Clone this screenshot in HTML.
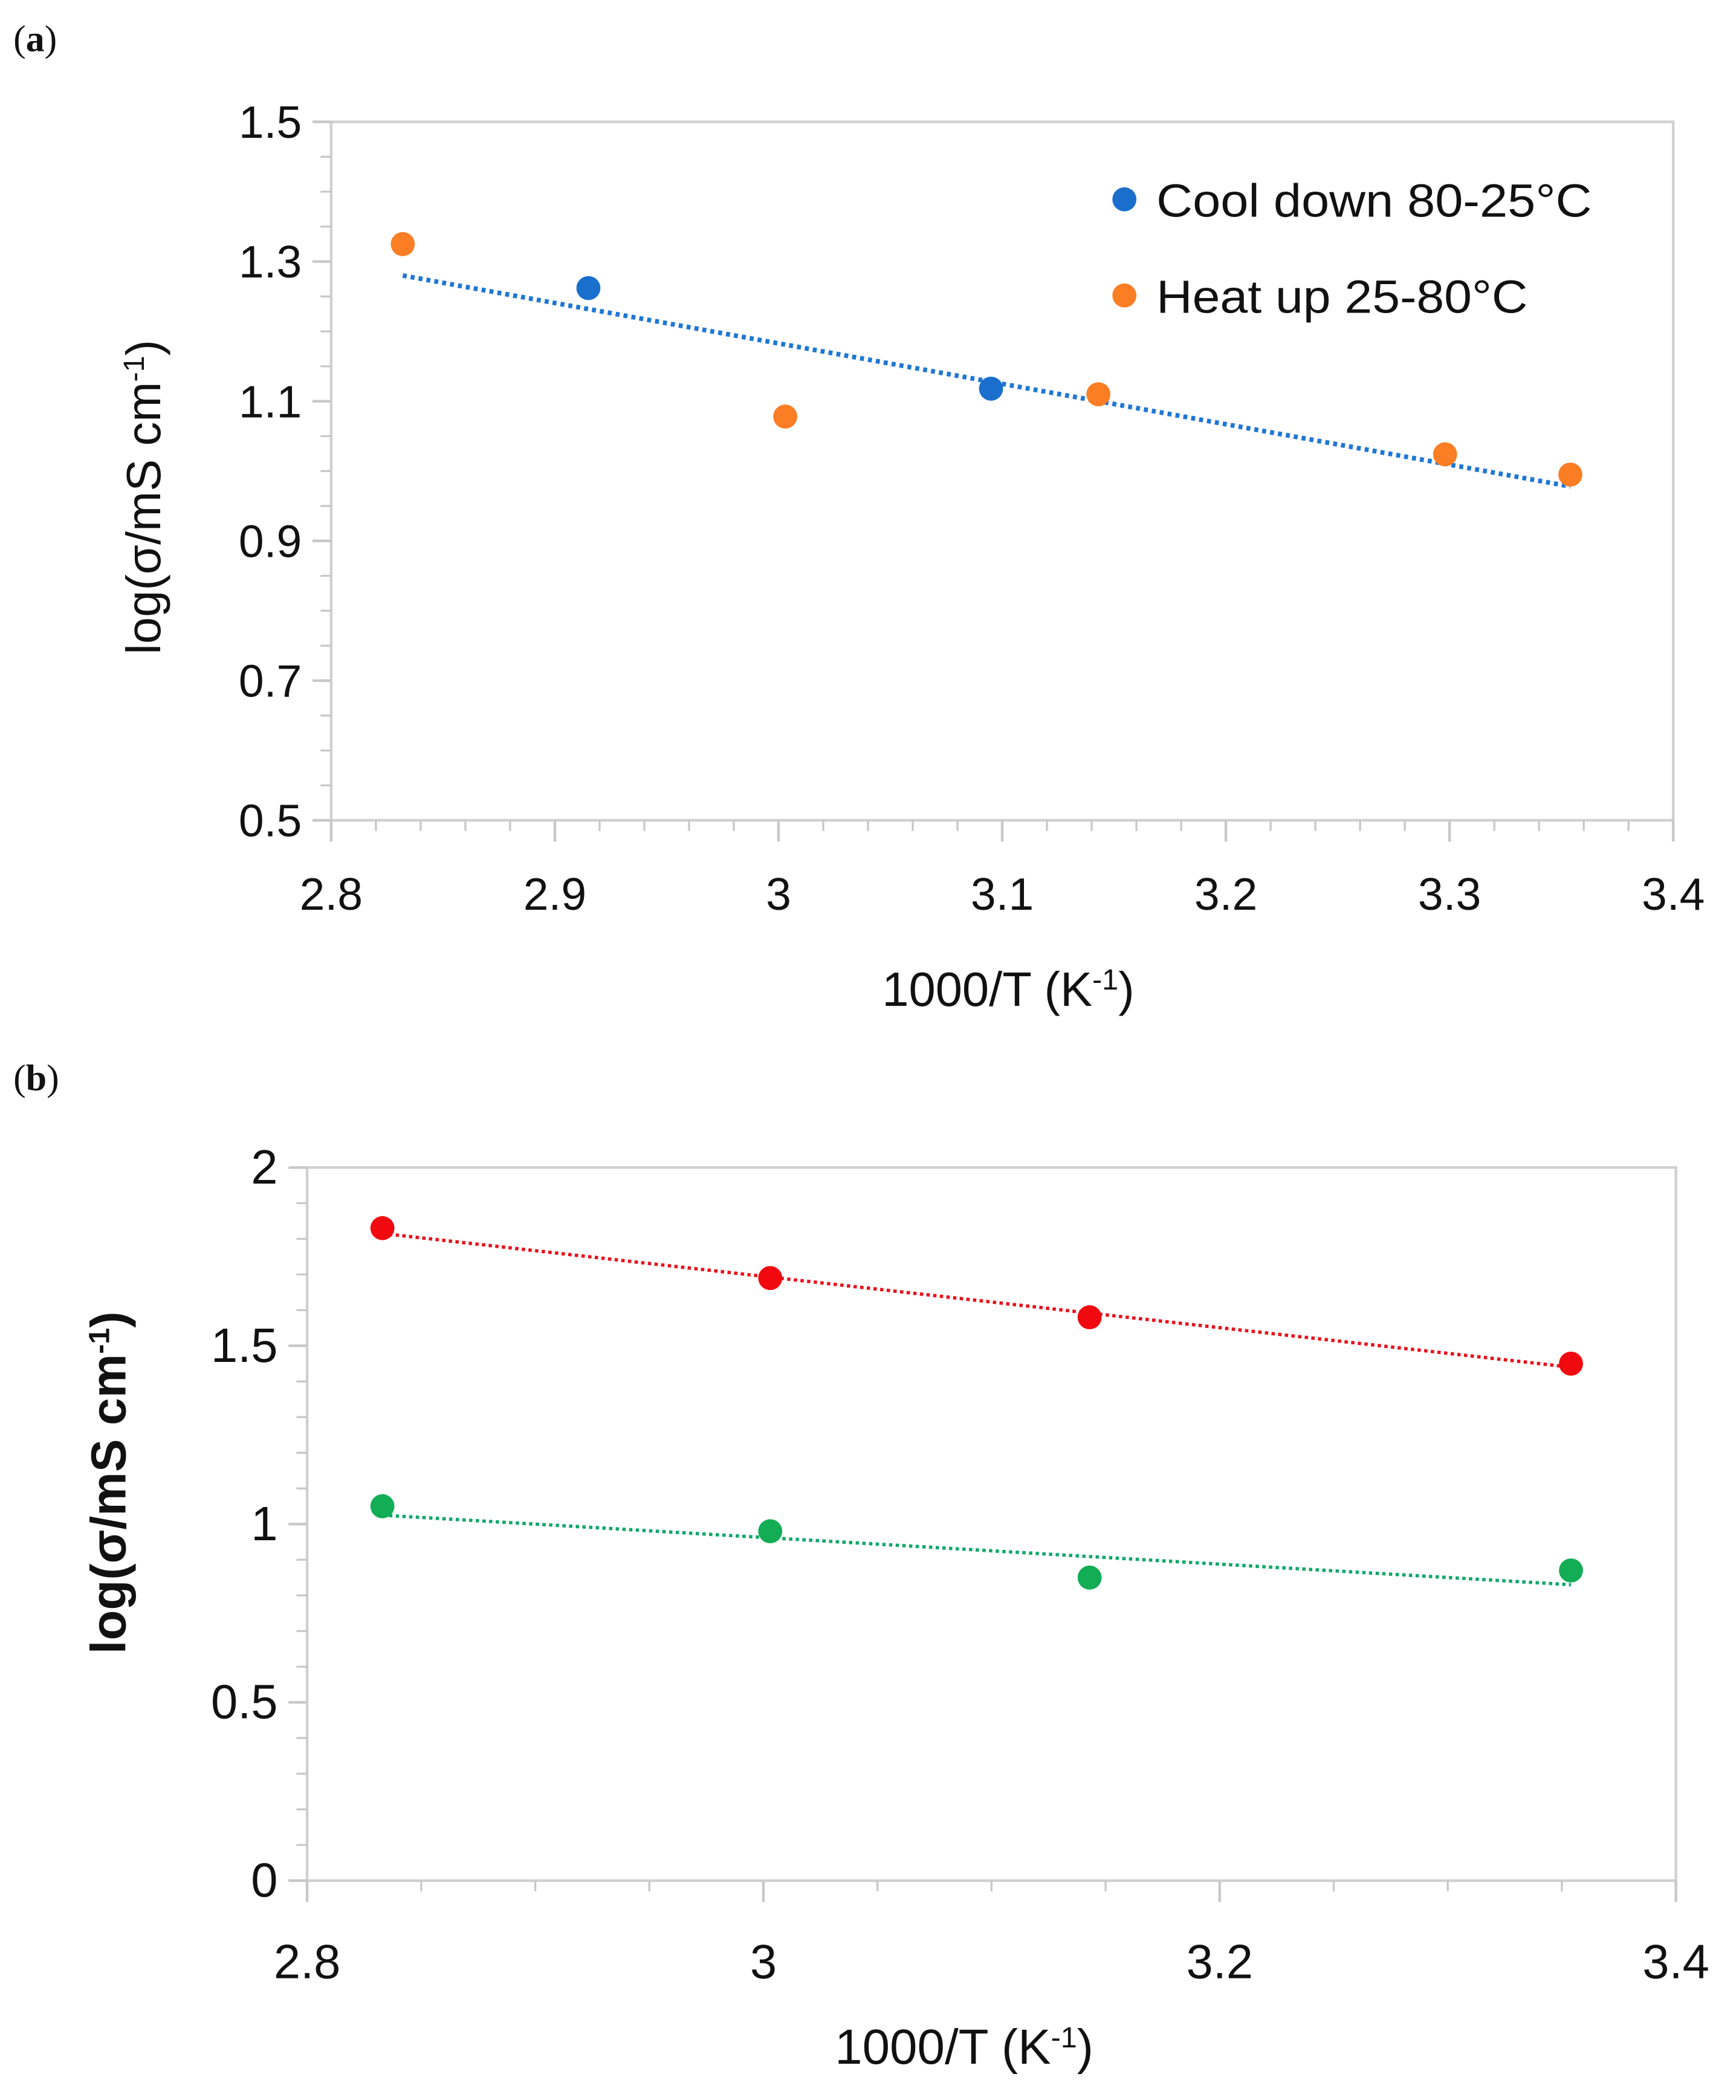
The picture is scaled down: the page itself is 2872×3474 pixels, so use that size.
<!DOCTYPE html>
<html><head><meta charset="utf-8"><style>
html,body{margin:0;padding:0;background:#fff;}
svg{display:block;}
text{font-family:"Liberation Sans",sans-serif;fill:#111;}
</style></head><body>
<svg width="2872" height="3474" viewBox="0 0 1300 1572" xmlns="http://www.w3.org/2000/svg">
<g id="ga"></g>
<g id="gb"></g>
</svg>
<script>
// ---- Chart (a) data ----
const aCoolX = [2.915, 3.095];
const aCoolY = [1.262, 1.118];
const aHeatX = [2.832, 3.003, 3.143, 3.298, 3.354];
const aHeatY = [1.325, 1.078, 1.110, 1.024, 0.995];
const aTrendX = [2.832, 3.354];
const aTrendY = [1.280, 0.978];
const aXTicks = [2.8, 2.9, 3.0, 3.1, 3.2, 3.3, 3.4];
const aXTickLabels = ["2.8","2.9","3","3.1","3.2","3.3","3.4"];
const aYTicks = [0.5, 0.7, 0.9, 1.1, 1.3, 1.5];
const aYTickLabels = ["0.5","0.7","0.9","1.1","1.3","1.5"];
// ---- Chart (b) data ----
const bRedX = [2.833, 3.003, 3.143, 3.354];
const bRedY = [1.83, 1.69, 1.58, 1.45];
const bRedTrendX = [2.833, 3.354];
const bRedTrendY = [1.815, 1.44];
const bGreenX = [2.833, 3.003, 3.143, 3.354];
const bGreenY = [1.05, 0.98, 0.85, 0.87];
const bGreenTrendX = [2.833, 3.354];
const bGreenTrendY = [1.025, 0.83];
const bXTicks = [2.8, 3.0, 3.2, 3.4];
const bXTickLabels = ["2.8","3","3.2","3.4"];
const bYTicks = [0, 0.5, 1, 1.5, 2];
const bYTickLabels = ["0","0.5","1","1.5","2"];

const NS="http://www.w3.org/2000/svg";
function mk(parent,tag,attrs){const e=document.createElementNS(NS,tag);for(const k in attrs)e.setAttribute(k,attrs[k]);parent.appendChild(e);return e;}

function drawChart(g,cfg){
  const sx=v=>cfg.x0+(v-cfg.xmin)/(cfg.xmax-cfg.xmin)*(cfg.x1-cfg.x0);
  const sy=v=>cfg.y0-(v-cfg.ymin)/(cfg.ymax-cfg.ymin)*(cfg.y0-cfg.y1);
  const frame=mk(g,'rect',{x:cfg.x0,y:cfg.y1,width:cfg.x1-cfg.x0,height:cfg.y0-cfg.y1,fill:'none',stroke:'#d0d0d0','stroke-width':2});
  
  
  for(let v=cfg.ymin;v<=cfg.ymax+1e-9;v+=cfg.yMinor){
    const t=mk(g,'line',{x1:cfg.x0-8,x2:cfg.x0,y1:sy(v),y2:sy(v),stroke:'#c8c8c8','stroke-width':1.5});
    
    
  }
  for(let v=cfg.xmin;v<=cfg.xmax+1e-9;v+=cfg.xMinor){
    const t=mk(g,'line',{x1:sx(v),x2:sx(v),y1:cfg.y0,y2:cfg.y0+8,stroke:'#c8c8c8','stroke-width':1.5});
    
    
  }
  cfg.yTicks.forEach((v,i)=>{
    const t=mk(g,'line',{x1:cfg.x0-14,x2:cfg.x0,y1:sy(v),y2:sy(v),stroke:'#c8c8c8','stroke-width':2});
    
    
    const l=mk(g,'text',{x:cfg.x0-22,y:sy(v)+12,'text-anchor':'end','font-size':cfg.fs});
    l.textContent=cfg.yLabels[i];
    
    
  });
  cfg.xTicks.forEach((v,i)=>{
    const t=mk(g,'line',{x1:sx(v),x2:sx(v),y1:cfg.y0,y2:cfg.y0+16,stroke:'#c8c8c8','stroke-width':2});
    
    
    const l=mk(g,'text',{x:sx(v),y:cfg.xLabelY,'text-anchor':'middle','font-size':cfg.fs});
    l.textContent=cfg.xLabels[i];
    
    
  });
  cfg.trends.forEach(tr=>{
    const ln=mk(g,'line',{x1:sx(tr.x[0]),y1:sy(tr.y[0]),x2:sx(tr.x[1]),y2:sy(tr.y[1]),stroke:tr.c,'stroke-width':tr.w,'stroke-dasharray':tr.d});
    
    
  });
  cfg.series.forEach(s=>{
    s.x.forEach((xv,i)=>{
      const c=mk(g,'circle',{cx:sx(xv),cy:sy(s.y[i]),r:9,fill:s.c});
      
      
    });
  });
}

const ga=document.getElementById('ga');
drawChart(ga,{x0:248,x1:1253,y0:614,y1:91,xmin:2.8,xmax:3.4,ymin:0.5,ymax:1.5,xMinor:0.02,yMinor:0.05,
  xTicks:aXTicks,xLabels:aXTickLabels,yTicks:aYTicks,yLabels:aYTickLabels,fs:34,xLabelY:681,
  trends:[{x:aTrendX,y:aTrendY,c:'#1f77d4',w:3.5,d:'3 3',name:'trendline-a'}],
  series:[{x:aCoolX,y:aCoolY,c:'#1a6fcc',name:'cool-down'},{x:aHeatX,y:aHeatY,c:'#fb7d24',name:'heat-up'}]});
const gb=document.getElementById('gb');
drawChart(gb,{x0:230,x1:1255,y0:1408,y1:874,xmin:2.8,xmax:3.4,ymin:0,ymax:2,xMinor:0.05,yMinor:0.1,
  xTicks:bXTicks,xLabels:bXTickLabels,yTicks:bYTicks,yLabels:bYTickLabels,fs:36,xLabelY:1481,
  trends:[{x:bRedTrendX,y:bRedTrendY,c:'#e8101a',w:2.5,d:'2.5 2.5',name:'trendline-red'},
          {x:bGreenTrendX,y:bGreenTrendY,c:'#10a868',w:2.5,d:'2.5 2.5',name:'trendline-green'}],
  series:[{x:bRedX,y:bRedY,c:'#f00a10',name:'red-series'},{x:bGreenX,y:bGreenY,c:'#12ad55',name:'green-series'}]});
</script>
<svg style="position:absolute;left:0;top:0" width="2872" height="3474" viewBox="0 0 1300 1572" xmlns="http://www.w3.org/2000/svg">
<text x="10" y="38" font-size="28" style="font-family:'Liberation Serif',serif">(<tspan font-weight="bold">a</tspan>)</text>
<text x="10" y="816" font-size="28" style="font-family:'Liberation Serif',serif">(<tspan font-weight="bold">b</tspan>)</text>
<circle cx="842" cy="149" r="9" fill="#1a6fcc"/>
<text x="866" y="162" font-size="35" textLength="326" lengthAdjust="spacingAndGlyphs">Cool down 80-25°C</text>
<circle cx="842" cy="221" r="9" fill="#fb7d24"/>
<text x="866" y="234" font-size="35" textLength="278" lengthAdjust="spacingAndGlyphs">Heat up 25-80°C</text>
<text x="755" y="753" text-anchor="middle" font-size="36">1000/T (K<tspan baseline-shift="super" font-size="22">-1</tspan>)</text>
<text transform="translate(120,372) rotate(-90)" text-anchor="middle" font-size="36">log(σ/mS cm<tspan baseline-shift="super" font-size="22">-1</tspan>)</text>
<text x="722" y="1545" text-anchor="middle" font-size="37">1000/T (K<tspan baseline-shift="super" font-size="22">-1</tspan>)</text>
<text transform="translate(94,1110) rotate(-90)" text-anchor="middle" font-size="37" font-weight="bold">log(σ/mS cm<tspan baseline-shift="super" font-size="22">-1</tspan>)</text>
</svg>
</body></html>
